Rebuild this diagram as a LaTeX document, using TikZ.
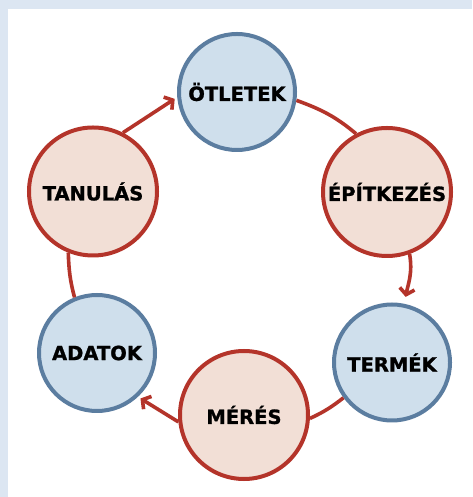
\documentclass[tikz,border=0pt]{standalone}
\usepackage{fontspec}
\setmainfont{DejaVu Sans}[BoldFeatures={FakeBold=1.2}]
\usetikzlibrary{arrows.meta}

\definecolor{framebg}{RGB}{220,230,242}
\definecolor{stageblue}{RGB}{207,223,236}
\definecolor{edgeblue}{RGB}{91,125,160}
\definecolor{stagered}{RGB}{242,223,214}
\definecolor{edgered}{RGB}{180,52,42}

\begin{document}
\begin{tikzpicture}[x=1pt, y=1pt,
    >={Straight Barb[length=6pt, width=15pt]},
    stage/.style={circle, line width=4pt, inner sep=0pt,
        font=\fontsize{19.5}{23}\selectfont\bfseries},
    bluestage/.style={stage, draw=edgeblue, fill=stageblue, minimum size=116pt},
    redstage/.style={stage, draw=edgered, fill=stagered, minimum size=128pt},
    flow/.style={draw=edgered, line width=3.6pt}]

    % frame
    \useasboundingbox (0, 0) rectangle (472, 497);
    \fill[framebg] (0, 0) rectangle (472, 497);
    \fill[white] (8, 0) rectangle (472, 488);

    % the six stages
    \node[bluestage] at (237, 405) (idea) {ÖTLETEK};
    \node[redstage] at (387, 305) (build) {ÉPÍTKEZÉS};
    \node[bluestage] at (392, 134.5) (product) {TERMÉK};
    \node[redstage] at (244, 82) (measure) {MÉRÉS};
    \node[bluestage] at (97, 144) (data) {ADATOK};
    \node[redstage] at (93, 305.5) (learn) {TANULÁS};

    % the loop
    \draw[flow] (idea.-8) to[out=-20, in=140] (build.118);
    \draw[flow, ->, shorten >=7pt] (build.-70) to[out=-80, in=80] (product.78);
    \draw[flow] (product.-144) to[out=218, in=25] (measure.-3);
    \draw[flow, ->, shorten >=3pt] (measure.186) -- (data.-47);
    \draw[flow] (data.112) to[out=105, in=-88] (learn.-112);
    \draw[flow, ->, shorten >=3pt] (learn.63) -- (idea.185);
\end{tikzpicture}
\end{document}
